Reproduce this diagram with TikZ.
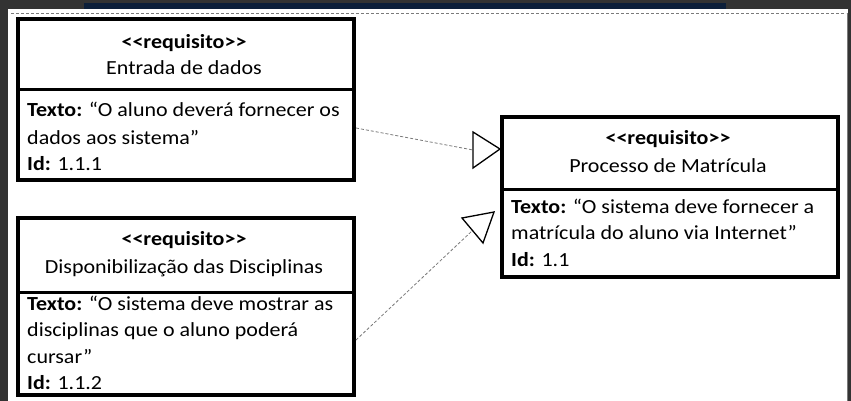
\documentclass[tikz,border=0pt]{standalone}
\usepackage{fontspec}
\setmainfont{Carlito}[FakeStretch=1.1]
\definecolor{bgdark}{HTML}{333333}
\definecolor{navybar}{HTML}{0C1F3A}
\definecolor{depgray}{HTML}{7A7A7A}
\begin{document}
\begin{tikzpicture}[x=1pt,y=-1pt,
  reqbox/.style={draw=black, line width=4pt, fill=white, inner sep=0pt, anchor=north west, minimum width=336pt},
  divline/.style={draw=black, line width=3pt},
  hdtext/.style={anchor=base, inner sep=0pt, font=\fontsize{20}{24}\selectfont},
  bodytext/.style={anchor=base west, inner sep=0pt, font=\fontsize{20}{24}\selectfont},
  depline/.style={draw=depgray, densely dashed, line width=0.8pt},
  opentri/.style={draw=black, line width=1.3pt, fill=white, line join=miter}]
\useasboundingbox (0,0) rectangle (851,401);
% screenshot frame
\fill[bgdark] (0,0) rectangle (851,401);
\fill[white] (8,9) rectangle (848,401);
\fill[navybar] (84,3) rectangle (726,9);
\draw[depgray, densely dashed, line width=0.8pt] (11,13) -- (846,13);
\draw[depgray, line width=0.8pt] (847.5,13) -- (847.5,401);
% boxes
\node[reqbox, minimum height=161pt] (r1) at (16,17) {};
\node[reqbox, minimum height=160pt] (r2) at (500,115) {};
\node[reqbox, minimum height=177pt] (r3) at (16,216) {};
\draw[divline] (r1.west |- 0,90) -- (r1.east |- 0,90);
\draw[divline] (r2.west |- 0,189) -- (r2.east |- 0,189);
\draw[divline] (r3.west |- 0,292) -- (r3.east |- 0,292);
% box 1 texts
\node[hdtext] (r1s) at (184,49) {\textbf{<{}<requisito>{}>}};
\node[hdtext] (r1n) at (184,75) {Entrada de dados};
\node[bodytext] (r1a) at (27,117) {\textbf{Texto:} “O aluno deverá fornecer os};
\node[bodytext] (r1b) at (27,144) {dados aos sistema”};
\node[bodytext] (r1c) at (27,170) {\textbf{Id:} 1.1.1};
% box 2 texts
\node[hdtext] (r2s) at (668,145) {\textbf{<{}<requisito>{}>}};
\node[hdtext] (r2n) at (668,172) {Processo de Matrícula};
\node[bodytext] (r2a) at (511,213) {\textbf{Texto:} “O sistema deve fornecer a};
\node[bodytext] (r2b) at (511,239) {matrícula do aluno via Internet”};
\node[bodytext] (r2c) at (511,266) {\textbf{Id:} 1.1};
% box 3 texts
\node[hdtext] (r3s) at (184,245) {\textbf{<{}<requisito>{}>}};
\node[hdtext] (r3n) at (184,273) {Disponibilização das Disciplinas};
\node[bodytext] (r3a) at (27,310) {\textbf{Texto:} “O sistema deve mostrar as};
\node[bodytext] (r3b) at (27,336) {disciplinas que o aluno poderá};
\node[bodytext] (r3c) at (27,363) {cursar”};
\node[bodytext] (r3d) at (27,389) {\textbf{Id:} 1.1.2};
% dependency connectors
\coordinate (b1) at (473,150);
\coordinate (t1) at (r2.west |- 0,149);
\coordinate (b2) at (472.5,230.5);
\coordinate (t2) at (494,212);
\draw[depline] (r1.east |- 0,128) -- (b1);
\draw[opentri] (t1) -- (473,132) -- (473,168) -- cycle;
\draw[depline] (r3.east |- 0,340) -- (b2);
\draw[opentri] (t2) -- (462,218) -- (483,243) -- cycle;
\end{tikzpicture}
\end{document}
